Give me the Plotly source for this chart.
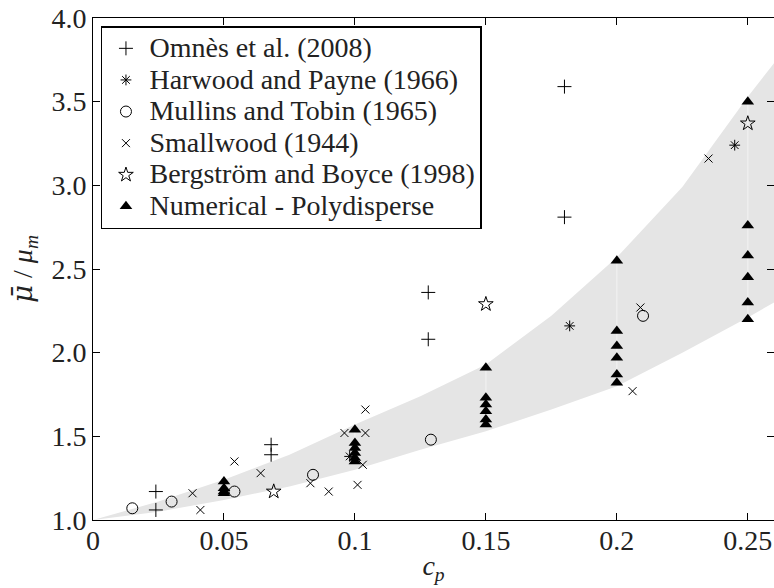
import plotly.graph_objects as go

# ---- data ----
omnes_x = [0.024, 0.024, 0.068, 0.068, 0.128, 0.128, 0.180, 0.180]
omnes_y = [1.17, 1.06, 1.45, 1.39, 2.36, 2.08, 3.59, 2.81]

harwood_x = [0.098, 0.182, 0.245]
harwood_y = [1.38, 2.16, 3.24]

mullins_x = [0.015, 0.030, 0.054, 0.084, 0.129, 0.210]
mullins_y = [1.07, 1.11, 1.17, 1.27, 1.48, 2.22]

smallwood_x = [0.038, 0.041, 0.054, 0.064, 0.083, 0.090, 0.096, 0.101,
               0.103, 0.104, 0.104, 0.206, 0.209, 0.235]
smallwood_y = [1.16, 1.06, 1.35, 1.28, 1.22, 1.17, 1.52, 1.21,
               1.33, 1.52, 1.66, 1.77, 2.27, 3.16]

bergstrom_x = [0.069, 0.150, 0.250]
bergstrom_y = [1.17, 2.29, 3.37]

num_groups_x = [0.05, 0.10, 0.15, 0.20, 0.25]
num_groups_y = [
    [1.23, 1.19, 1.17, 1.16],
    [1.54, 1.46, 1.43, 1.40, 1.37, 1.35],
    [1.91, 1.73, 1.69, 1.65, 1.60, 1.57],
    [2.55, 2.13, 2.04, 1.97, 1.87, 1.82],
    [3.50, 2.76, 2.58, 2.45, 2.30, 2.20],
]

band_x = [0, 0.025, 0.05, 0.075, 0.1, 0.125, 0.15, 0.175, 0.2, 0.225, 0.25, 0.26]
band_upper = [1.0, 1.11, 1.24, 1.39, 1.57, 1.74, 1.93, 2.22, 2.57, 2.99, 3.53, 3.73]
band_lower = [1.0, 1.05, 1.12, 1.20, 1.30, 1.42, 1.53, 1.66, 1.80, 2.00, 2.21, 2.30]

x_ticks = [0, 0.05, 0.10, 0.15, 0.20, 0.25]
x_ticktext = ["0", "0.05", "0.1", "0.15", "0.2", "0.25"]
y_ticks = [1.0, 1.5, 2.0, 2.5, 3.0, 3.5, 4.0]
y_ticktext = ["1.0", "1.5", "2.0", "2.5", "3.0", "3.5", "4.0"]

FONT = "Liberation Serif, Times New Roman, serif"
TXT = 28

fig = go.Figure()

# shaded band
fig.add_trace(go.Scatter(
    x=band_x + band_x[::-1], y=band_upper + band_lower[::-1],
    fill="toself", fillcolor="#e5e5e5", mode="lines",
    line=dict(width=0, color="#e5e5e5"),
    hoverinfo="skip", showlegend=False))

# faint vertical lines through numerical groups
vx, vy = [], []
for gx, gy in zip(num_groups_x, num_groups_y):
    vx += [gx, gx, None]
    vy += [min(gy), max(gy), None]
fig.add_trace(go.Scatter(x=vx, y=vy, mode="lines",
                         line=dict(color="#f3f3f3", width=1),
                         hoverinfo="skip", showlegend=False))

num_x, num_y = [], []
for gx, gy in zip(num_groups_x, num_groups_y):
    num_x += [gx] * len(gy)
    num_y += gy

def sc(x, y, name, symbol, size, lw=1):
    return go.Scatter(x=x, y=y, mode="markers",
                      name='<span style="font-size:%dpx">%s</span>' % (TXT, name),
                      marker=dict(symbol=symbol, size=size, color="black",
                                  line=dict(color="black", width=lw)))

fig.add_trace(sc(omnes_x, omnes_y, "Omnès et al. (2008)", "cross-thin", 10))
fig.add_trace(sc(harwood_x, harwood_y, "Harwood and Payne (1966)", "asterisk", 9))
fig.add_trace(sc(mullins_x, mullins_y, "Mullins and Tobin (1965)", "circle-open", 11))
fig.add_trace(sc(smallwood_x, smallwood_y, "Smallwood (1944)", "x-thin", 8))
fig.add_trace(sc(bergstrom_x, bergstrom_y, "Bergström and Boyce (1998)", "star-open", 11))
fig.add_trace(sc(num_x, num_y, "Numerical - Polydisperse", "triangle-up", 11, lw=0))

axis_common = dict(showline=True, linecolor="black", linewidth=1, mirror="ticks",
                   ticks="inside", ticklen=7, tickcolor="black", showgrid=False,
                   zeroline=False, automargin=False,
                   tickfont=dict(family=FONT, size=TXT, color="#222"))

ytitle = ('<span style="font-family:DejaVu Serif"><i>μ̄</i></span>'
          ' / <i>μ</i><sub><i>m</i></sub>')

fig.update_layout(
    width=774, height=588,
    margin=dict(l=93, r=0, t=18, b=68),
    plot_bgcolor="white", paper_bgcolor="white",
    font=dict(family=FONT, size=TXT, color="#222"),
    xaxis=dict(range=[0, 0.26], tickvals=x_ticks, ticktext=x_ticktext,
               ticklabelstandoff=-5,
               title=dict(text="<i>c</i><sub><i>p</i></sub>", standoff=0,
                          font=dict(family=FONT, size=28)),
               **axis_common),
    yaxis=dict(range=[1, 4], tickvals=y_ticks, ticktext=y_ticktext,
               title=dict(text=ytitle, standoff=10,
                          font=dict(family=FONT, size=28)),
               **axis_common),
    legend=dict(x=0.0117, y=0.984, xanchor="left", yanchor="top",
                bgcolor="white", bordercolor="black", borderwidth=1.5,
                font=dict(family=FONT, size=22, color="#222"),
                itemwidth=37, tracegroupgap=0),
)

fig.write_html("out.html")
